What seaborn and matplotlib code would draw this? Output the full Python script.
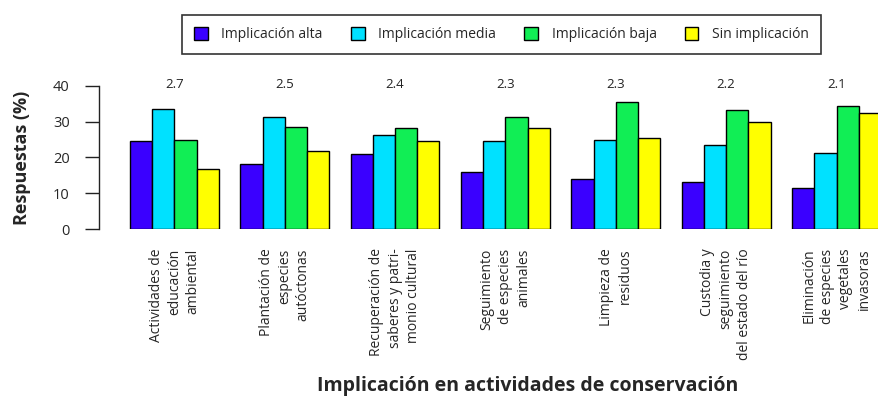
import numpy as np
import pandas as pd
import seaborn as sns
import matplotlib.pyplot as plt
from matplotlib.patches import Patch

sns.set_theme(style="white")
plt.rcParams['font.family'] = ['Open Sans', 'DejaVu Sans']

# Datos
actividades = [
    "Actividades de\neducación\nambiental",
    "Plantación de\nespecies\nautóctonas",
    "Recuperación de\nsaberes y patri-\nmonio cultural",
    "Seguimiento\nde especies\nanimales",
    "Limpieza de\nresiduos",
    "Custodia y\nseguimiento\ndel estado del río",
    "Eliminación\nde especies\nvegetales\ninvasoras",
]
niveles = ["Implicación alta", "Implicación media", "Implicación baja", "Sin implicación"]
alta = [24.5, 18.2, 20.9, 15.8, 14.1, 13.1, 11.6]
media = [33.6, 31.4, 26.4, 24.5, 25.0, 23.6, 21.3]
baja = [25.0, 28.6, 28.3, 31.4, 35.5, 33.3, 34.4]
sin = [16.8, 21.9, 24.5, 28.3, 25.5, 30.0, 32.3]
promedio = [2.7, 2.5, 2.4, 2.3, 2.3, 2.2, 2.1]

colores = ["#3a00ff", "#00e1ff", "#11ee55", "#ffff00"]

df = pd.DataFrame({
    "actividad": actividades * 4,
    "nivel": np.repeat(niveles, len(actividades)),
    "valor": alta + media + baja + sin,
})

fig = plt.figure(figsize=(8.79, 3.98), dpi=100)
ax = fig.add_axes([0.1126, 0.4246, 0.8874, 0.3596])

sns.barplot(data=df, x="actividad", y="valor", hue="nivel", order=actividades,
            hue_order=niveles, palette=colores, width=0.805, saturation=1,
            edgecolor="black", linewidth=1, legend=False, ax=ax)

# promedio de implicación sobre cada grupo
for i, p in enumerate(promedio):
    ax.text(i, 40.5, f"{p:.1f}", ha="center", va="center", fontsize=9.5,
            color="#222222", clip_on=False)

ax.set_ylim(0, 40)
ax.set_xlim(-0.683, 6.385)
ax.set_yticks([0, 10, 20, 30, 40])
ax.tick_params(axis="y", length=10, width=1, color="#222222", labelsize=10.5,
               pad=11, left=True)
ax.tick_params(axis="x", length=0, labelsize=10, pad=14)
for lab in ax.get_xticklabels():
    lab.set_rotation(90)
    lab.set_ha("center")
    lab.set_va("top")
    lab.set_multialignment("right")
    lab.set_linespacing(1.3)
for s in ["top", "right", "bottom"]:
    ax.spines[s].set_visible(False)
ax.spines["left"].set_color("#222222")
ax.spines["left"].set_linewidth(1)

ax.set_ylabel("Respuestas (%)", fontsize=13, fontweight="bold", labelpad=16)
ax.set_xlabel("")
fig.text(0.6, 0.03, "Implicación en actividades de conservación", ha="center",
         va="center", fontsize=14, fontweight="bold")

handles = [Patch(facecolor=c, edgecolor="black", linewidth=1) for c in colores]
fig.legend(handles, niveles, loc="center", bbox_to_anchor=(0.5705, 0.913),
           ncol=4, frameon=True, fancybox=False, edgecolor="black",
           fontsize=10, handlelength=1.0, handleheight=1.0, columnspacing=2.0,
           borderpad=0.85, handletextpad=1.0)
fig.legends[0].get_frame().set_linewidth(1.2)

fig.savefig("out.png", dpi=100)
